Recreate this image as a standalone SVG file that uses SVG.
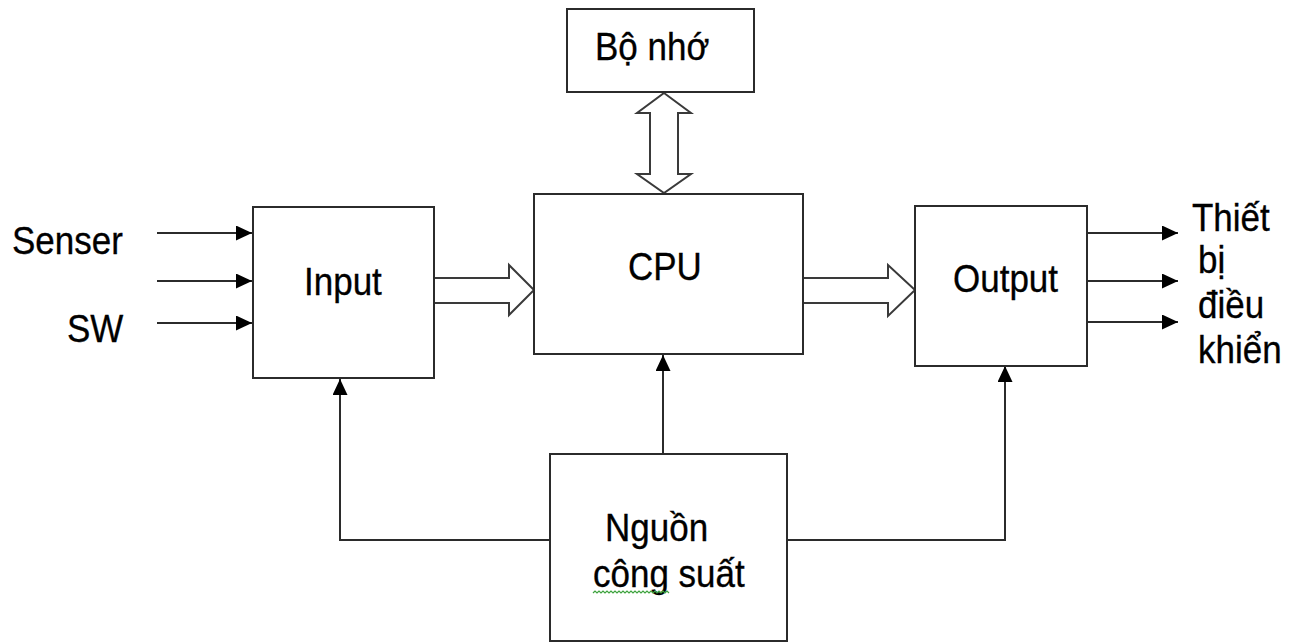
<svg xmlns="http://www.w3.org/2000/svg" width="1298" height="643" viewBox="0 0 1298 643">
<style>
.box{fill:#fff;stroke:#2b2b2b;stroke-width:2}
.lbl{font-family:"Liberation Sans",Arial,sans-serif;font-size:35px;fill:#000;stroke:#000;stroke-width:0.3}
.wire{fill:none;stroke:#2b2b2b;stroke-width:2}
.hollow{fill:#fff;stroke:#3a3a3a;stroke-width:2;stroke-linejoin:miter}
.squig{fill:none;stroke:#3ea33e;stroke-width:1.2}
</style>
<defs>
<marker id="ah" markerUnits="userSpaceOnUse" markerWidth="17" markerHeight="15" refX="16" refY="7.5" orient="auto">
<path d="M0,0 L16,7.5 L0,15 z" fill="#000"/>
</marker>
</defs>
<rect width="1298" height="643" fill="#fff"/>

<g id="connectors">
<path class="wire" d="M157,233 H252" marker-end="url(#ah)"/>
<path class="wire" d="M157,281 H252" marker-end="url(#ah)"/>
<path class="wire" d="M157,323 H252" marker-end="url(#ah)"/>
<path class="wire" d="M1087,233 H1178" marker-end="url(#ah)"/>
<path class="wire" d="M1087,281 H1178" marker-end="url(#ah)"/>
<path class="wire" d="M1087,322 H1178" marker-end="url(#ah)"/>
<path class="wire" d="M550,540 H340 V379" marker-end="url(#ah)"/>
<path class="wire" d="M663,454 V355" marker-end="url(#ah)"/>
<path class="wire" d="M787,540 H1005 V366" marker-end="url(#ah)"/>
<polyline class="hollow" points="434,278 509,278 509,265 534,290 509,315 509,303 434,303"/>
<polyline class="hollow" points="803,278 888,278 888,265 915,290 888,316 888,303 803,303"/>
<polygon class="hollow" points="664,93 691,113 678,113 678,174 691,174 664,193 637,174 650,174 650,113 637,113"/>
</g>

<g id="memory">
<rect class="box" x="567" y="9" width="187" height="83"/>
<text class="lbl" transform="translate(595,60) scale(1,1.12)">Bộ nhớ</text>
</g>

<g id="input">
<rect class="box" x="253" y="207" width="181" height="171"/>
<text class="lbl" transform="translate(304,295) scale(1,1.12)">Input</text>
</g>

<g id="cpu">
<rect class="box" x="534" y="194" width="269" height="160"/>
<text class="lbl" transform="translate(628,280) scale(1,1.12)">CPU</text>
</g>

<g id="output">
<rect class="box" x="915" y="206" width="172" height="160"/>
<text class="lbl" transform="translate(953,292) scale(1,1.12)">Output</text>
</g>

<g id="power">
<rect class="box" x="550" y="454" width="237" height="187"/>
<text class="lbl" transform="translate(605,541) scale(1,1.12)">Nguồn</text>
<text class="lbl" transform="translate(593,587) scale(1,1.12)">công suất</text>
<path class="squig" d="M593,593 l2,-2 l2,2 l2,-2 l2,2 l2,-2 l2,2 l2,-2 l2,2 l2,-2 l2,2 l2,-2 l2,2 l2,-2 l2,2 l2,-2 l2,2 l2,-2 l2,2 l2,-2 l2,2 l2,-2 l2,2 l2,-2 l2,2 l2,-2 l2,2 l2,-2 l2,2 l2,-2 l2,2 l2,-2 l2,2 l2,-2 l2,2 l2,-2 l2,2 l2,-2 l2,2"/>
</g>

<g id="inputs-labels">
<text class="lbl" transform="translate(12,254) scale(1,1.12)">Senser</text>
<text class="lbl" transform="translate(67,342) scale(1,1.12)">SW</text>
</g>

<g id="outputs-labels">
<text class="lbl" transform="translate(1192,231) scale(1,1.12)">Thiết</text>
<text class="lbl" transform="translate(1198,273) scale(1,1.12)">bị</text>
<text class="lbl" transform="translate(1198,318) scale(1,1.12)">điều</text>
<text class="lbl" transform="translate(1198,363) scale(1,1.12)">khiển</text>
</g>
</svg>
